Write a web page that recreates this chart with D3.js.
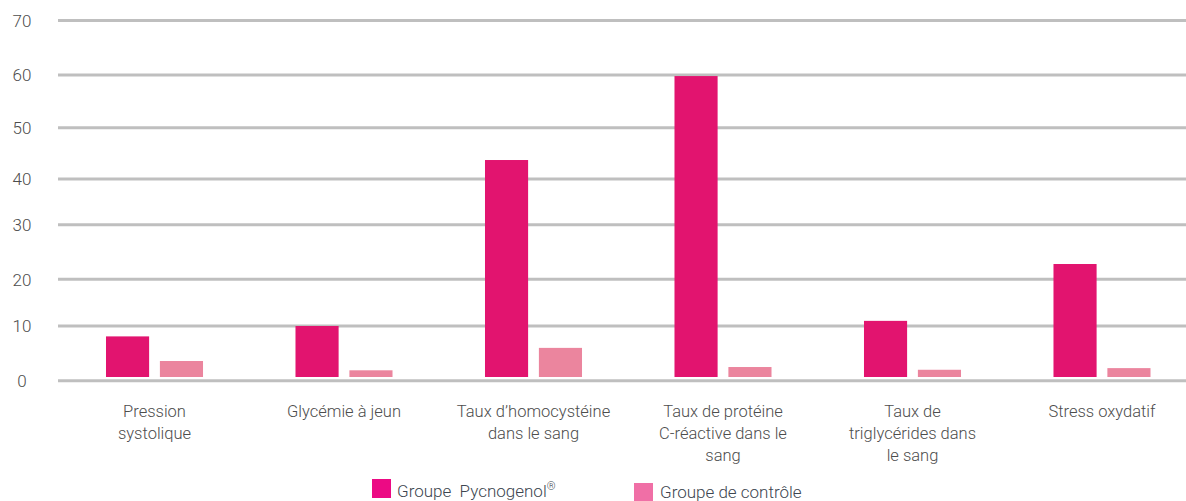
<!DOCTYPE html>
<html>
<head>
<meta charset="utf-8">
<script src="https://cdn.jsdelivr.net/npm/d3@7/dist/d3.min.js"></script>
<style>
  html, body { margin: 0; padding: 0; background: #fff; }
  svg text { font-family: Roboto, "Liberation Sans", sans-serif; font-weight: 300; }
</style>
</head>
<body>
<div id="chart"></div>
<script>
// categories, one array of lines per label
var categories = ["pression", "glycemie", "homocysteine", "crp", "triglycerides", "stress"];
var categoryLines = [
  ["Pression", "systolique"],
  ["Glycémie à jeun"],
  ["Taux d’homocystéine", "dans le sang"],
  ["Taux de protéine", "C-réactive dans le", "sang"],
  ["Taux de", "triglycérides dans", "le sang"],
  ["Stress oxydatif"]
];
var seriesNames = ["Groupe  Pycnogenol", "Groupe de contrôle"];
var pycnogenol = [8.1, 10, 43.7, 59.8, 11.1, 22.8];
var controle   = [3.6, 1.9, 6.0, 2.5, 2.0, 2.3];
var yTicks = [0, 10, 20, 30, 40, 50, 60, 70];

var width = 1186, height = 501;

var svg = d3.select("#chart").append("svg")
    .attr("width", width)
    .attr("height", height);

// gridlines in the source are not evenly spaced, so the scale follows them
var y = d3.scaleLinear()
    .domain(yTicks)
    .range([380.7, 326, 279.3, 224.7, 179, 127.7, 75, 20.5]);

var x0 = d3.scaleBand()
    .domain(categories)
    .range([59, 1197.5])
    .paddingInner(0.488)
    .paddingOuter(0.248);

var x1 = d3.scaleBand()
    .domain(["p", "c"])
    .range([0, x0.bandwidth()])
    .paddingInner(0.2);

var barColor = { p: "#e2146f", c: "#eb859e" };

// gridlines
svg.append("g")
  .selectAll("line")
  .data(yTicks)
  .join("line")
    .attr("x1", 58)
    .attr("x2", width)
    .attr("y1", function(d) { return y(d); })
    .attr("y2", function(d) { return y(d); })
    .attr("stroke", "#bfbfbf")
    .attr("stroke-width", 3);

// y labels
svg.append("g")
  .selectAll("text")
  .data(yTicks)
  .join("text")
    .attr("x", 22)
    .attr("y", function(d) { return y(d) + 2; })
    .attr("text-anchor", "middle")
    .attr("dominant-baseline", "middle")
    .attr("font-size", 17)
    .attr("fill", "#4d4d4d")
    .text(function(d) { return d; });

// bars
var groups = svg.append("g")
  .selectAll("g")
  .data(categories)
  .join("g")
    .attr("transform", function(d) { return "translate(" + x0(d) + ",0)"; });

var base = y(0) - 3.7;

groups.selectAll("rect")
  .data(function(d, i) { return [{ k: "p", v: pycnogenol[i] }, { k: "c", v: controle[i] }]; })
  .join("rect")
    .attr("x", function(d) { return x1(d.k); })
    .attr("width", x1.bandwidth())
    .attr("y", function(d) { return y(d.v); })
    .attr("height", function(d) { return base - y(d.v); })
    .attr("fill", function(d) { return barColor[d.k]; });

// category labels
svg.append("g")
  .selectAll("text")
  .data(categories)
  .join("text")
    .attr("x", function(d) { return x0(d) + x0.bandwidth() / 2; })
    .attr("y", 417)
    .attr("text-anchor", "middle")
    .attr("font-size", 16.5)
    .attr("fill", "#4d4d4d")
  .selectAll("tspan")
  .data(function(d, i) { return categoryLines[i]; })
  .join("tspan")
    .attr("x", function() { return d3.select(this.parentNode).attr("x"); })
    .attr("dy", function(d, i) { return i === 0 ? 0 : 22; })
    .text(function(d) { return d; });

// legend
svg.append("rect")
    .attr("x", 372).attr("y", 479)
    .attr("width", 19).attr("height", 19)
    .attr("fill", "#ec0a84");

var lt = svg.append("text")
    .attr("x", 397).attr("y", 497)
    .attr("font-size", 17)
    .attr("fill", "#3d4650")
    .style("white-space", "pre");
lt.append("tspan").text(seriesNames[0]);
lt.append("tspan")
    .attr("font-size", 11)
    .attr("dy", -7)
    .text("®");

svg.append("rect")
    .attr("x", 634).attr("y", 483)
    .attr("width", 19).attr("height", 19)
    .attr("fill", "#f06fa6");

svg.append("text")
    .attr("x", 660).attr("y", 498)
    .attr("font-size", 17)
    .attr("fill", "#3d4650")
    .text(seriesNames[1]);
</script>
</body>
</html>
